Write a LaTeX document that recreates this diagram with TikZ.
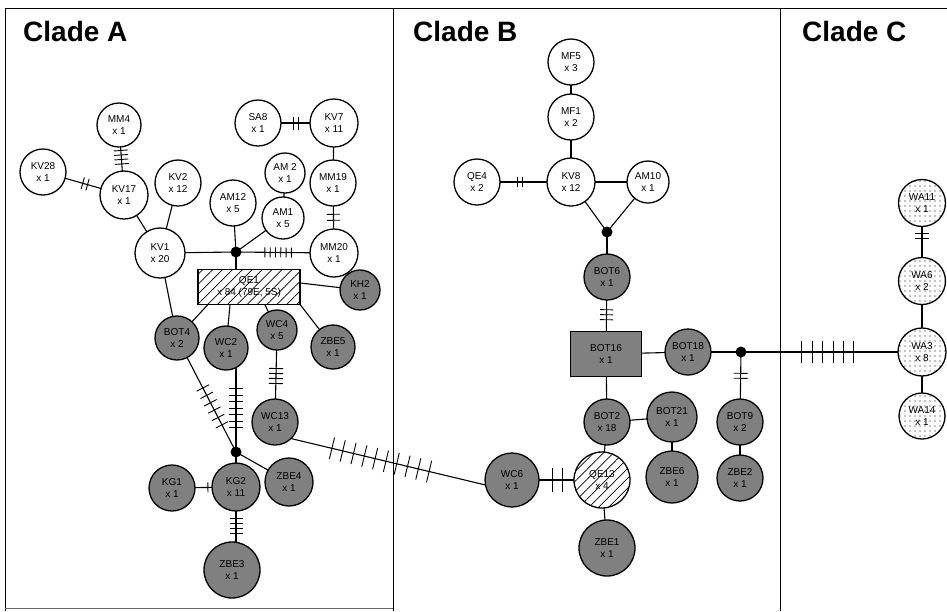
\documentclass[tikz,border=0pt]{standalone}
\usepackage{fontspec}
\setmainfont{Liberation Sans}
\usetikzlibrary{backgrounds,decorations.markings,patterns.meta,calc}
\newcommand\hlbl{\fontsize{10}{11.5}\selectfont}
\tikzset{
  hap/.style={circle, draw, line width=1.3pt, minimum size=#1, inner sep=0pt, align=center, font=\hlbl, fill=white},
  hbox/.style={rectangle, draw, line width=1.3pt, inner sep=0pt, align=center, font=\hlbl},
  gry/.style={fill=black!50},
  hat/.style={preaction={fill=white}, pattern={Lines[angle=45,distance=7pt,line width=0.7pt]}},
  dts/.style={preaction={fill=white}, pattern={Dots[distance=5pt,radius=0.6pt]}},
  jn/.style={circle, fill=black, minimum size=11pt, inner sep=0pt},
  ed/.style={line width=1.1pt},
  tk/.style n args={4}{postaction={decorate,decoration={markings,mark=at position #2 with {\foreach \ii in {1,...,#1}{\pgfmathsetmacro\off{(\ii-(#1+1)/2)*#3}\draw[line width=0.9pt] (\off pt,-#4pt) -- (\off pt,#4pt);}}}}},
  clade/.style={font=\fontsize{28}{30}\selectfont\bfseries, anchor=west, inner sep=0pt},
  frame/.style={line width=0.9pt}
}
\begin{document}
\begin{tikzpicture}[x=1pt,y=-1pt]
\useasboundingbox (0,0) rectangle (947,611);
% frame
\draw[frame] (5,611) -- (5,8) -- (947,8);
\draw[frame] (393,8) -- (393,611);
\draw[frame] (780,8) -- (780,611);
\draw[frame, black!60] (5,608) -- (393,608);
\node[clade] (hA) at (23,31) {Clade A};
\node[clade] (hB) at (413,31) {Clade B};
\node[clade] (hC) at (802,31) {Clade C};
% Clade A
\node[hap=44pt] (MM4) at (119,125) {MM4\\x 1};
\node[hap=46pt] (KV28) at (43,172) {KV28\\x 1};
\node[hap=48pt] (KV17) at (124,195) {KV17\\x 1};
\node[hap=46pt] (KV2) at (178,183) {KV2\\x 12};
\node[hap=50pt] (KV1) at (160,253) {KV1\\x 20};
\node[hap=46pt] (SA8) at (258,123) {SA8\\x 1};
\node[hap=48pt] (KV7) at (334,123) {KV7\\x 11};
\node[hap=46pt] (MM19) at (333,183) {MM19\\x 1};
\node[hap=40pt] (AM2) at (285,173) {AM 2\\x 1};
\node[hap=42pt] (AM1) at (283,218) {AM1\\x 5};
\node[hap=46pt] (AM12) at (233,203) {AM12\\x 5};
\node[hap=48pt] (MM20) at (334,253) {MM20\\x 1};
\node[jn] (dA) at (236,252) {};
\node[hbox, hat, minimum width=102pt, minimum height=35pt] (QE1) at (249,287) {QE1\\x 84 (79E, 5S)};
\node[hap=40pt, gry] (KH2) at (360,290) {KH2\\x 1};
\node[hap=44pt, gry] (BOT4) at (177,338) {BOT4\\x 2};
\node[hap=44pt, gry] (WC2) at (226,348) {WC2\\x 1};
\node[hap=40pt, gry] (WC4) at (277,330) {WC4\\x 5};
\node[hap=44pt, gry] (ZBE5) at (333,347) {ZBE5\\x 1};
\node[hap=46pt, gry] (WC13) at (275,422) {WC13\\x 1};
\node[jn] (dB) at (236,452) {};
\node[hap=48pt, gry] (KG2) at (236,487) {KG2\\x 11};
\node[hap=46pt, gry] (KG1) at (172,488) {KG1\\x 1};
\node[hap=48pt, gry] (ZBE4) at (289,482) {ZBE4\\x 1};
\node[hap=56pt, gry] (ZBE3) at (232,570) {ZBE3\\x 1};
% Clade B
\node[hap=46pt] (MF5) at (571,62) {MF5\\x 3};
\node[hap=46pt] (MF1) at (571,117) {MF1\\x 2};
\node[hap=48pt] (KV8) at (571,182) {KV8\\x 12};
\node[hap=46pt] (QE4) at (477,182) {QE4\\x 2};
\node[hap=42pt] (AM10) at (648,182) {AM10\\x 1};
\node[jn] (dC) at (607,232) {};
\node[hap=46pt, gry] (BOT6) at (607,277) {BOT6\\x 1};
\node[hbox, gry, minimum width=71pt, minimum height=45pt] (BOT16) at (606,354) {BOT16\\x 1};
\node[hap=46pt, gry] (BOT18) at (688,352) {BOT18\\x 1};
\node[jn] (dD) at (741,352) {};
\node[hap=46pt, gry] (BOT2) at (607,422) {BOT2\\x 18};
\node[hap=50pt, gry] (BOT21) at (672,417) {BOT21\\x 1};
\node[hap=46pt, gry] (BOT9) at (740,422) {BOT9\\x 2};
\node[hap=54pt, gry] (WC6) at (512,480) {WC6\\x 1};
\node[hap=56pt, hat] (QE13) at (602,480) {QE13\\x 4};
\node[hap=52pt, gry] (ZBE6) at (672,477) {ZBE6\\x 1};
\node[hap=46pt, gry] (ZBE2) at (740,478) {ZBE2\\x 1};
\node[hap=56pt, gry] (ZBE1) at (607,548) {ZBE1\\x 1};
% Clade C
\node[hap=47pt, dts] (WA11) at (922,203) {WA11\\x 1};
\node[hap=47pt, dts] (WA6) at (922,281) {WA6\\x 2};
\node[hap=48pt, dts] (WA3) at (922,352) {WA3\\x 8};
\node[hap=46pt, dts] (WA14) at (922,416) {WA14\\x 1};
\begin{pgfonlayer}{background}
% Clade A edges
\draw[ed, tk={4}{0.46}{4.5}{7}] (MM4.center) -- (KV17.center);
\draw[ed, tk={2}{0.52}{5}{6}] (KV28.center) -- (KV17.center);
\draw[ed] (KV17.center) -- (KV1.center);
\draw[ed] (KV2.center) -- (KV1.center);
\draw[ed, tk={2}{0.5}{5}{6.5}] (SA8.center) -- (KV7.center);
\draw[ed] (KV7.center) -- (MM19.center);
\draw[ed, tk={2}{0.49}{6}{6.5}] (MM19.center) -- (MM20.center);
\draw[ed] (AM2.center) -- (AM1.center);
\draw[ed] (AM1.center) -- (dA.center);
\draw[ed] (AM12.center) -- (dA.center);
\draw[ed] (KV1.center) -- (dA.center);
\draw[ed, tk={6}{0.43}{5.3}{5}] (dA.center) -- (MM20.center);
\draw[ed] (dA.center) -- (dA.center |- QE1.north);
\draw[ed] (KH2.center) -- ($(QE1.east)+(0,-4)$);
\draw[ed] (BOT4.center) -- ($(QE1.south west)+(10,0)$);
\draw[ed] (WC2.center) -- ($(QE1.south)+(-19,0)$);
\draw[ed] (WC4.center) -- ($(QE1.south)+(16,0)$);
\draw[ed] (ZBE5.center) -- (QE1.south east);
\draw[ed] (KV1.center) -- (BOT4.center);
\draw[ed, tk={6}{0.6}{8.3}{7}] (BOT4.center) -- (dB.center);
\draw[ed, tk={7}{0.42}{6.5}{7}] (dB.center) -- (dB.center |- WC2.center);
\draw[ed, tk={4}{0.5}{5}{7}] (WC4.center) -- (WC13.center);
\draw[ed] (dB.center) -- (KG2.center);
\draw[ed] (dB.center) -- (ZBE4.center);
\draw[ed, tk={2}{0.6}{5}{5}] (KG1.center) -- (KG2.center);
\draw[ed, tk={4}{0.47}{5}{6.5}] (KG2.center) -- (KG2.center |- ZBE3.center);
\draw[ed, tk={10}{0.46}{11.1}{11}] (WC13.-45) -- (WC6.190);
% Clade B edges
\draw[ed] (MF5.center) -- (MF1.center);
\draw[ed] (MF1.center) -- (KV8.center);
\draw[ed, tk={2}{0.46}{5}{5}] (QE4.center) -- (KV8.center);
\draw[ed] (KV8.center) -- (AM10.center);
\draw[ed] (KV8.center) -- (dC.center);
\draw[ed] (AM10.center) -- (dC.center);
\draw[ed] (dC.center) -- (BOT6.center);
\draw[ed, tk={3}{0.49}{5}{6.5}] (BOT6.center) -- (BOT16.center);
\draw[ed] (BOT16.center) -- (BOT18.center);
\draw[ed] (BOT18.center) -- (dD.center);
\draw[ed, tk={2}{0.34}{5}{7}] (dD.center) -- (BOT9.center);
\draw[ed, tk={6}{0.48}{10.4}{11}] (dD.center) -- (WA3.center);
\draw[ed] (BOT16.center) -- (BOT2.center);
\draw[ed] (BOT2.center) -- (BOT21.center);
\draw[ed] (BOT2.center) -- (QE13.center);
\draw[ed] (BOT21.center) -- (ZBE6.center);
\draw[ed] (BOT9.center) -- (ZBE2.center);
\draw[ed, tk={2}{0.5}{10}{12}] (WC6.center) -- (QE13.center);
\draw[ed] (QE13.center) -- (ZBE1.center);
% Clade C edges
\draw[ed, tk={2}{0.42}{5}{7}] (WA11.center) -- (WA6.center);
\draw[ed] (WA6.center) -- (WA3.center);
\draw[ed] (WA3.center) -- (WA14.center);
\end{pgfonlayer}
\end{tikzpicture}
\end{document}
